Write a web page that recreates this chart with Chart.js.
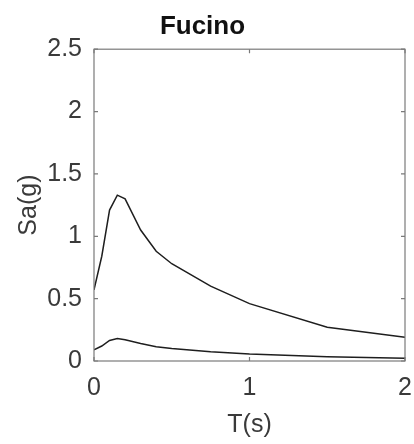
<!DOCTYPE html>
<html>
<head>
<meta charset="UTF-8">
<script src="https://cdn.jsdelivr.net/npm/chart.js@4/dist/chart.umd.min.js"></script>
<style>
  html, body { margin: 0; padding: 0; background: #fff; }
  #wrap { width: 414px; height: 444px; }
</style>
</head>
<body>
<div id="wrap"><canvas id="plot"></canvas></div>
<script>
// periodi (s) e spettri
const periods  = [0, 0.05, 0.1, 0.15, 0.2, 0.3, 0.4, 0.5, 0.75, 1, 1.5, 2];
const saUpper  = [0.57, 0.84, 1.21, 1.33, 1.30, 1.05, 0.88, 0.78, 0.60, 0.46, 0.27, 0.19];
const saLower  = [0.09, 0.12, 0.165, 0.18, 0.17, 0.14, 0.115, 0.10, 0.075, 0.057, 0.035, 0.022];
const xTicks   = [0, 1, 2];
const yTicks   = [0, 0.5, 1, 1.5, 2, 2.5];

const axisColor = '#7a7a7a';
const textColor = '#3a3a3a';
const fontFam   = '"Liberation Sans", Arial, sans-serif';

// box + tick interni stile MATLAB
const boxTicks = {
    id: 'boxTicks',
    afterDatasetsDraw(chart) {
        const { ctx, chartArea: a, scales: { x, y } } = chart;
        ctx.save();
        ctx.strokeStyle = axisColor;
        ctx.lineWidth = 1.2;
        ctx.strokeRect(a.left, a.top, a.right - a.left, a.bottom - a.top);
        const len = 4;
        ctx.beginPath();
        xTicks.forEach(v => {
            const px = x.getPixelForValue(v);
            ctx.moveTo(px, a.bottom); ctx.lineTo(px, a.bottom - len);
            ctx.moveTo(px, a.top);    ctx.lineTo(px, a.top + len);
        });
        yTicks.forEach(v => {
            const py = y.getPixelForValue(v);
            ctx.moveTo(a.left, py);  ctx.lineTo(a.left + len, py);
            ctx.moveTo(a.right, py); ctx.lineTo(a.right - len, py);
        });
        ctx.stroke();
        ctx.restore();
    }
};

window.onload = () => {
    const ctx = document.getElementById('plot').getContext('2d');
    const toXY = arr => periods.map((t, i) => ({ x: t, y: arr[i] }));

    new Chart(ctx, {
        type: 'line',
        data: {
            datasets: [
                { data: toXY(saUpper), borderColor: '#1e1e1e', borderWidth: 1.5, pointRadius: 0, tension: 0, fill: false },
                { data: toXY(saLower), borderColor: '#1e1e1e', borderWidth: 1.5, pointRadius: 0, tension: 0, fill: false }
            ]
        },
        options: {
            responsive: true,
            maintainAspectRatio: false,
            animation: false,
            layout: { padding: { left: 0, right: 9, top: 0, bottom: 0 } },
            plugins: {
                legend: { display: false },
                tooltip: { enabled: false },
                title: {
                    display: true,
                    text: 'Fucino',
                    color: '#111',
                    font: { family: fontFam, size: 26, weight: 'bold', lineHeight: 1.2 },
                    padding: { top: 11, bottom: 7 }
                }
            },
            scales: {
                x: {
                    type: 'linear',
                    min: 0, max: 2,
                    afterBuildTicks: s => { s.ticks = xTicks.map(v => ({ value: v })); },
                    afterFit: s => { s.height = 83; s.paddingRight = 0; s.paddingLeft = 0; },
                    grid: { display: false, drawTicks: false },
                    border: { display: false },
                    ticks: {
                        color: textColor, font: { family: fontFam, size: 25 }, padding: 12, maxRotation: 0,
                        callback: v => String(v)
                    },
                    title: {
                        display: true, text: 'T(s)', color: textColor,
                        font: { family: fontFam, size: 25, lineHeight: 1.2 }, padding: { top: 0, bottom: 4 }
                    }
                },
                y: {
                    min: 0, max: 2.5,
                    afterBuildTicks: s => { s.ticks = yTicks.map(v => ({ value: v })); },
                    afterFit: s => { s.width = 94; s.paddingTop = 0; s.paddingBottom = 0; },
                    grid: { display: false, drawTicks: false },
                    border: { display: false },
                    ticks: {
                        color: textColor, font: { family: fontFam, size: 25 }, padding: 12,
                        callback: v => String(v)
                    },
                    title: {
                        display: true, text: 'Sa(g)', color: textColor,
                        font: { family: fontFam, size: 25, lineHeight: 1.2 }, padding: { top: 14, bottom: 0 }
                    }
                }
            }
        },
        plugins: [boxTicks]
    });
};
</script>
</body>
</html>
